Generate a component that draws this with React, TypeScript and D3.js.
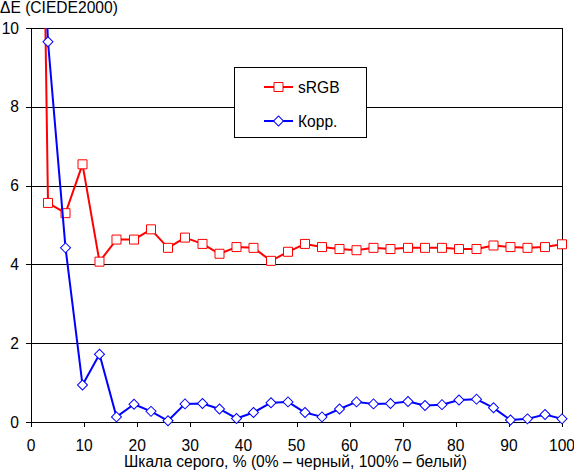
import { useEffect, useRef } from "react";
import * as d3 from "d3";

// gray level, %
const grayLevels = [
  0, 3.2, 6.5, 9.7, 12.9, 16.1, 19.4, 22.6, 25.8, 29.0, 32.3, 35.5, 38.7, 41.9,
  45.2, 48.4, 51.6, 54.8, 58.1, 61.3, 64.5, 67.7, 71.0, 74.2, 77.4, 80.6, 83.9,
  87.1, 90.3, 93.5, 96.8, 100,
];

const srgbValues = [
  35, 5.56, 5.3, 6.54, 4.07, 4.63, 4.63, 4.89, 4.42, 4.68, 4.52, 4.27, 4.44,
  4.42, 4.09, 4.32, 4.52, 4.44, 4.39, 4.36, 4.42, 4.39, 4.42, 4.42, 4.42, 4.39,
  4.39, 4.48, 4.44, 4.42, 4.44, 4.51,
];

const corrValues = [
  20, 9.65, 4.42, 0.94, 1.72, 0.13, 0.45, 0.27, 0.03, 0.46, 0.47, 0.33, 0.09,
  0.24, 0.49, 0.51, 0.24, 0.13, 0.33, 0.51, 0.46, 0.47, 0.52, 0.42, 0.44, 0.56,
  0.58, 0.36, 0.05, 0.08, 0.19, 0.08,
];

const xTicks = [0, 10, 20, 30, 40, 50, 60, 70, 80, 90, 100];
const yTicks = [0, 2, 4, 6, 8, 10];

const seriesNames = ["sRGB", "Корр."];
const seriesColors = ["#ff0000", "#0000ff"];

const yTitle = "ΔE (CIEDE2000)";
const xTitle = "Шкала серого, % (0% – черный, 100% – белый)";

const W = 574;
const H = 472;
const FONT = "'Liberation Sans', Arial, sans-serif";
const FS = 15.6;

export default function App() {
  const ref = useRef<SVGSVGElement>(null);

  useEffect(() => {
    const svg = d3.select(ref.current);
    svg.selectAll("*").remove();

    const left = 31,
      right = 562,
      top = 28,
      bottom = 422;

    const x = d3.scaleLinear().domain([0, 100]).range([left, right]);
    const y = d3.scaleLinear().domain([0, 10]).range([bottom, top]);

    svg
      .append("rect")
      .attr("width", W)
      .attr("height", H)
      .attr("fill", "#fff");

    // gridlines
    svg
      .selectAll("line.grid")
      .data(yTicks.filter((d) => d > 0))
      .join("line")
      .attr("x1", left - 5)
      .attr("x2", right)
      .attr("y1", (d) => Math.round(y(d)) + 0.5)
      .attr("y2", (d) => Math.round(y(d)) + 0.5)
      .attr("stroke", "#000");

    // axes / frame
    svg
      .append("line")
      .attr("x1", left + 0.5)
      .attr("x2", left + 0.5)
      .attr("y1", top)
      .attr("y2", bottom + 5)
      .attr("stroke", "#000");
    svg
      .append("line")
      .attr("x1", right + 0.5)
      .attr("x2", right + 0.5)
      .attr("y1", top)
      .attr("y2", bottom + 5)
      .attr("stroke", "#000");
    svg
      .append("line")
      .attr("x1", left - 5)
      .attr("x2", right + 1)
      .attr("y1", bottom + 0.5)
      .attr("y2", bottom + 0.5)
      .attr("stroke", "#000");

    // x ticks
    svg
      .selectAll("line.xt")
      .data(xTicks)
      .join("line")
      .attr("x1", (d) => Math.round(x(d)) + 0.5)
      .attr("x2", (d) => Math.round(x(d)) + 0.5)
      .attr("y1", bottom)
      .attr("y2", bottom + 5)
      .attr("stroke", "#000");

    const txt = svg
      .append("g")
      .attr("font-family", FONT)
      .attr("font-size", FS)
      .attr("fill", "#000");

    txt
      .selectAll("text.xl")
      .data(xTicks)
      .join("text")
      .attr("x", (d) => x(d))
      .attr("y", bottom + 29)
      .attr("text-anchor", "middle")
      .text((d) => d);

    txt
      .selectAll("text.yl")
      .data(yTicks)
      .join("text")
      .attr("x", 19)
      .attr("y", (d) => y(d) + 5.5)
      .attr("text-anchor", "end")
      .text((d) => d);

    txt.append("text").attr("x", 0).attr("y", 13).text(yTitle);
    txt
      .append("text")
      .attr("x", (left + right) / 2 - 1)
      .attr("y", 467)
      .attr("text-anchor", "middle")
      .text(xTitle);

    // clip
    svg
      .append("clipPath")
      .attr("id", "plotclip")
      .append("rect")
      .attr("x", left)
      .attr("y", top)
      .attr("width", right - left + 10)
      .attr("height", H - top);

    const series = [srgbValues, corrValues];
    const plot = svg.append("g").attr("clip-path", "url(#plotclip)");

    const line = d3
      .line<number>()
      .x((_, i) => x(grayLevels[i]))
      .y((d) => y(d));

    const square = d3.symbol().type(d3.symbolSquare).size(81);
    const diamond = d3.symbol().type(d3.symbolSquare).size(50);

    series.forEach((vals, si) => {
      plot
        .append("path")
        .attr("d", line(vals))
        .attr("fill", "none")
        .attr("stroke", seriesColors[si])
        .attr("stroke-width", 2)
        .attr("stroke-linejoin", "round");

      plot
        .selectAll(`path.m${si}`)
        .data(vals.map((v, i) => [grayLevels[i], v]).filter((d) => d[1] <= 10))
        .join("path")
        .attr("d", si === 0 ? square() : diamond())
        .attr(
          "transform",
          (d) =>
            `translate(${x(d[0])},${y(d[1])})` + (si === 1 ? " rotate(45)" : ""),
        )
        .attr("fill", "#fff")
        .attr("stroke", seriesColors[si])
        .attr("stroke-width", 1);
    });

    // legend
    const lg = svg.append("g");
    lg.append("rect")
      .attr("x", 234.5)
      .attr("y", 67.5)
      .attr("width", 132)
      .attr("height", 70)
      .attr("fill", "#fff")
      .attr("stroke", "#000");

    seriesNames.forEach((name, si) => {
      const ly = 87 + si * 34;
      lg.append("line")
        .attr("x1", 264)
        .attr("x2", 293)
        .attr("y1", ly)
        .attr("y2", ly)
        .attr("stroke", seriesColors[si])
        .attr("stroke-width", 2);
      lg.append("path")
        .attr("d", si === 0 ? square() : diamond())
        .attr("transform", `translate(278.5,${ly})` + (si === 1 ? " rotate(45)" : ""))
        .attr("fill", "#fff")
        .attr("stroke", seriesColors[si]);
      lg.append("text")
        .attr("x", 298)
        .attr("y", ly + 5.5)
        .attr("font-family", FONT)
        .attr("font-size", FS)
        .text(name);
    });
  }, []);

  return (
    <svg
      ref={ref}
      width={W}
      height={H}
      style={{ position: "absolute", left: 0, top: 0, display: "block" }}
    />
  );
}
